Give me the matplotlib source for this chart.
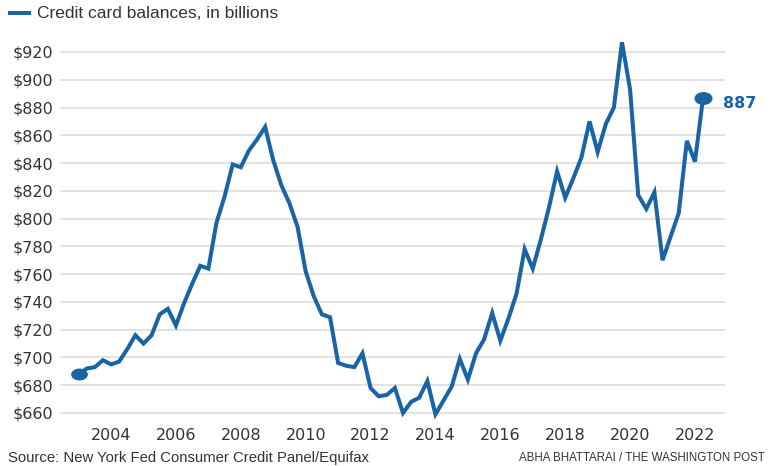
# 信用卡余额折线图
import numpy as np
import matplotlib.pyplot as plt
from matplotlib.path import Path
from matplotlib.transforms import Affine2D

# 数据：2003Q1 - 2022Q2 季度余额（十亿美元）
start_year = 2003
balances = [688, 692, 693, 698,
            695, 697, 706, 716,
            710, 716, 731, 735,
            723, 739, 753, 766,
            764, 797, 816, 839,
            837, 849, 857, 866,
            842, 824, 811, 794,
            762, 744, 731, 729,
            696, 694, 693, 703,
            678, 672, 673, 678,
            660, 668, 671, 683,
            659, 669, 679, 699,
            684, 703, 713, 732,
            712, 728, 746, 778,
            764, 785, 808, 834,
            815, 829, 844, 870,
            848, 868, 880, 927,
            893, 817, 807, 819,
            770, 787, 804, 856,
            841, 887]
year_ticks = [2004, 2006, 2008, 2010, 2012, 2014, 2016, 2018, 2020, 2022]
y_ticks = [660, 680, 700, 720, 740, 760, 780, 800, 820, 840, 860, 880, 900, 920]

t = start_year + np.arange(len(balances)) / 4.0
blue = '#1a64a6'
grey = '#333333'

plt.rcParams['font.family'] = ['Liberation Sans', 'DejaVu Sans']
fig = plt.figure(figsize=(7.7, 4.66), dpi=100)
ax = fig.add_axes([0.078, 0.0989, 0.8636, 0.8253])

# 网格线
for v in y_ticks:
    ax.axhline(v, color='#e2e2e2', linewidth=1.4, zorder=0)

ax.plot(t, balances, color=blue, linewidth=2.9, solid_joinstyle='miter', zorder=3)

# 首尾的椭圆点
ell = Path.unit_circle().transformed(Affine2D().scale(1.45, 1.0))
ax.plot(t[0], balances[0], marker=ell, markersize=11, color=blue, zorder=4)
ax.plot(t[-1], balances[-1], marker=ell, markersize=12, color=blue, zorder=4)
ax.annotate(str(balances[-1]), (t[-1], balances[-1]), xytext=(14, -4),
            textcoords='offset points', color=blue, fontsize=11.5,
            fontweight='bold', va='center', ha='left',
            family=['DejaVu Sans'], annotation_clip=False)

ax.set_xlim(2002.428, 2022.927)
ax.set_ylim(655, 932)
ax.set_yticks(y_ticks)
ax.set_yticklabels(['$%d' % v for v in y_ticks], family=['DejaVu Sans'])
ax.set_xticks(year_ticks)
ax.set_xticklabels([str(y) for y in year_ticks], family=['DejaVu Sans'])
ax.tick_params(length=0, labelsize=11.5, colors=grey)
ax.tick_params(axis='x', pad=6)
ax.tick_params(axis='y', pad=5)
for s in ax.spines.values():
    s.set_visible(False)

# 图例
fig.add_artist(plt.Line2D([10 / 770, 29 / 770], [1 - 13 / 466] * 2,
                          color=blue, linewidth=2.9))
fig.text(37 / 770, 1 - 13 / 466, 'Credit card balances, in billions',
         fontsize=12.5, color=grey, va='center', ha='left')

# 来源
fig.text(8 / 770, 1 - 458 / 466, 'Source: New York Fed Consumer Credit Panel/Equifax',
         fontsize=10.7, color=grey, va='center', ha='left')
fig.text(765 / 770, 1 - 458 / 466, 'ABHA BHATTARAI / THE WASHINGTON POST',
         fontsize=8.3, color=grey, va='center', ha='right',
         family=['Liberation Sans Narrow', 'Liberation Sans'])

plt.savefig('out.png', dpi=100)
